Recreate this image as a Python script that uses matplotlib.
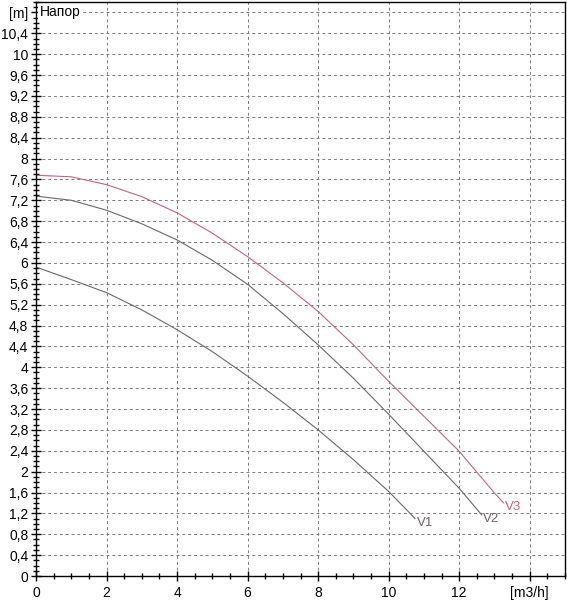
import matplotlib
matplotlib.use('Agg')
import matplotlib.pyplot as plt
from matplotlib.ticker import MultipleLocator, FuncFormatter

plt.rcParams['font.family'] = ['Liberation Sans', 'DejaVu Sans']

# pump curves: flow [m3/h] vs head [m]
flow_v1 = [0, 1, 2, 3, 4, 5, 6, 7, 8, 9, 10, 10.75]
head_v1 = [5.92, 5.68, 5.43, 5.10, 4.72, 4.30, 3.83, 3.33, 2.80, 2.23, 1.62, 1.10]

flow_v2 = [0, 1, 2, 3, 4, 5, 6, 7, 8, 9, 10, 11, 12, 12.64]
head_v2 = [7.28, 7.20, 7.01, 6.75, 6.44, 6.05, 5.59, 5.03, 4.43, 3.79, 3.10, 2.39, 1.68, 1.17]

flow_v3 = [0, 1, 2, 3, 4, 5, 6, 7, 8, 9, 10, 11, 12, 13, 13.26]
head_v3 = [7.68, 7.65, 7.50, 7.27, 6.96, 6.57, 6.12, 5.62, 5.07, 4.43, 3.73, 3.06, 2.39, 1.59, 1.40]

curve_names = ['V1', 'V2', 'V3']
curve_colors = ['#6f6569', '#6f6569', '#c4647c']

x_unit = '[m3/h]'
y_unit = '[m]'
y_title = 'Напор'

fig = plt.figure(figsize=(5.67, 6.0), dpi=100)
ax = fig.add_axes([36 / 567, 24 / 600, 529 / 567, 574 / 600])

curves = [(flow_v1, head_v1), (flow_v2, head_v2), (flow_v3, head_v3)]
for (q, h), name, col in zip(curves, curve_names, curve_colors):
    ax.plot(q, h, color=col, lw=0.8)
    ax.annotate(name, (q[-1], h[-1]), xytext=(1, -3), textcoords='offset points',
                color=col, fontsize=9.5, ha='left', va='center')

ax.set_xlim(0, 15)
ax.set_ylim(0, 11)

ax.xaxis.set_major_locator(MultipleLocator(2))
ax.xaxis.set_minor_locator(MultipleLocator(0.5))
ax.yaxis.set_major_locator(MultipleLocator(0.4))
ax.yaxis.set_minor_locator(MultipleLocator(0.1))


def fmt_x(v, pos):
    if abs(v - 14) < 1e-6:
        return x_unit
    return f'{v:g}'


def fmt_y(v, pos):
    if abs(v - 10.8) < 1e-6:
        return y_unit
    return f'{round(v, 1):g}'.replace('.', ',')


ax.xaxis.set_major_formatter(FuncFormatter(fmt_x))
ax.yaxis.set_major_formatter(FuncFormatter(fmt_y))

ax.tick_params(which='major', direction='inout', length=7, width=1, labelsize=10, pad=2)
ax.tick_params(axis='x', which='major', pad=4)
ax.tick_params(which='minor', direction='inout', length=5, width=1)

ax.grid(True, which='major', color='#7a7a7a', linestyle=(0, (3, 3)), lw=0.7)
for s in ax.spines.values():
    s.set_linewidth(1)

ax.text(0.1, 10.8, y_title, fontsize=10, va='center', ha='left',
        bbox=dict(facecolor='white', edgecolor='none', pad=1))

fig.savefig('out.png', dpi=100)
